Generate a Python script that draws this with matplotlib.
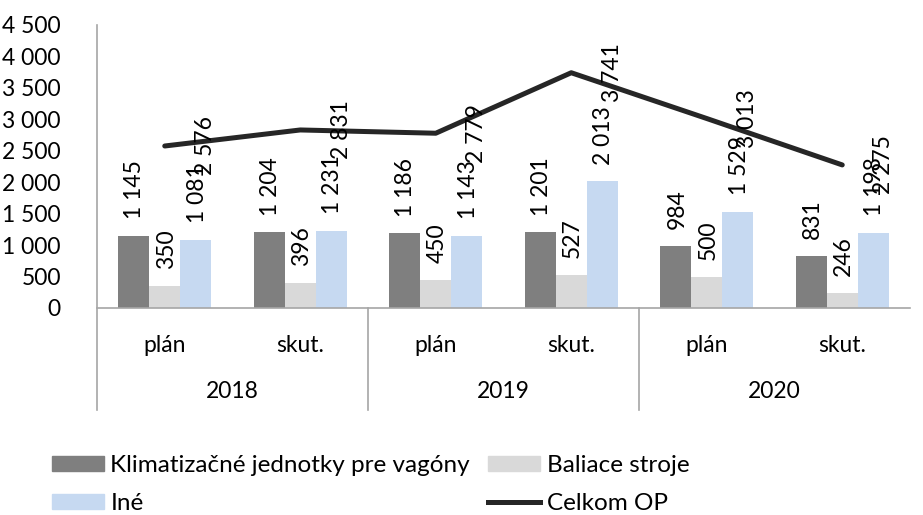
import numpy as np
import matplotlib.pyplot as plt
from matplotlib.transforms import blended_transform_factory
from matplotlib.lines import Line2D
from matplotlib.patches import Patch

plt.rcParams['font.family'] = ['Lato', 'DejaVu Sans']

years = ["2018", "2019", "2020"]
kinds = ["plán", "skut."]
klima = [1145, 1204, 1186, 1201, 984, 831]
baliace = [350, 396, 450, 527, 500, 246]
ine = [1081, 1231, 1143, 2013, 1529, 1198]
celkom = [2576, 2831, 2779, 3741, 3013, 2275]

series = [("Klimatizačné jednotky pre vagóny", klima, "#7F7F7F"),
          ("Baliace stroje", baliace, "#D9D9D9"),
          ("Iné", ine, "#C6D9F1")]

W, H = 923, 515
fig = plt.figure(figsize=(W / 100, H / 100), dpi=100)
ax = fig.add_axes([97 / W, 1 - 308 / H, (910 - 97) / W, 283 / H])

def fmt(v):
    return f"{v:,}".replace(",", " ")

fs = 16.5
x = np.arange(len(klima))
bw = 0.23
for i, (name, vals, col) in enumerate(series):
    xs = x + (i - 1) * bw
    ax.bar(xs, vals, bw, color=col, zorder=2)
    for xi, v in zip(xs, vals):
        ax.annotate(fmt(v), (xi, v), xytext=(1, 12), textcoords="offset points",
                    rotation=90, ha="center", va="bottom", fontsize=fs)

ax.plot(x, celkom, color="#262626", lw=3.6, zorder=3, solid_capstyle="round")
for xi, v in zip(x, celkom):
    ax.annotate(fmt(v), (xi, v), xytext=(22, 0), textcoords="offset points",
                rotation=90, ha="left", va="center", fontsize=fs)

ax.set_xlim(-0.5, len(x) - 0.5)
ax.set_ylim(0, 4500)
ax.set_yticks(np.arange(0, 4501, 500))
ax.set_yticklabels([fmt(v) for v in range(0, 4501, 500)], fontsize=fs)
ax.tick_params(axis="y", length=0, pad=26)
ax.set_xticks([])
for s in ["top", "right"]:
    ax.spines[s].set_visible(False)
ax.spines["left"].set_visible(False)
ax.spines["bottom"].set_color("#A6A6A6")
ax.spines["bottom"].set_linewidth(1.2)

# multi-level category axis
tr = blended_transform_factory(ax.transData, fig.transFigure)
y0 = 1 - 308 / H
y1 = 1 - 410 / H
ytop = 1 - 25 / H
sep_col = "#A6A6A6"
fig.add_artist(Line2D([-0.5, -0.5], [y1, ytop], transform=tr, color=sep_col, lw=1.2))
for b in [1.5, 3.5]:
    fig.add_artist(Line2D([b, b], [y1, y0], transform=tr, color=sep_col, lw=1.2))
for i in range(len(x)):
    fig.text(x[i], 1 - 345 / H, kinds[i % 2], transform=tr, ha="center", va="center", fontsize=fs)
for j, yr in enumerate(years):
    fig.text(2 * j + 0.5, 1 - 391 / H, yr, transform=tr, ha="center", va="center", fontsize=fs)

lfs = 17.5
handles = [Patch(color=series[0][2]), Patch(color=series[2][2]),
           Patch(color=series[1][2]), Line2D([], [], color="#262626", lw=3.6)]
labels = [series[0][0], series[2][0], series[1][0], "Celkom OP"]
fig.legend(handles, labels, loc="upper left", bbox_to_anchor=(52 / W, 1 - 455 / H),
           ncol=2, frameon=False, fontsize=lfs, handlelength=2.15, handleheight=0.55,
           handletextpad=0.25, columnspacing=0.75, labelspacing=0.7, borderpad=0,
           borderaxespad=0)

fig.savefig("out.png", dpi=100)
